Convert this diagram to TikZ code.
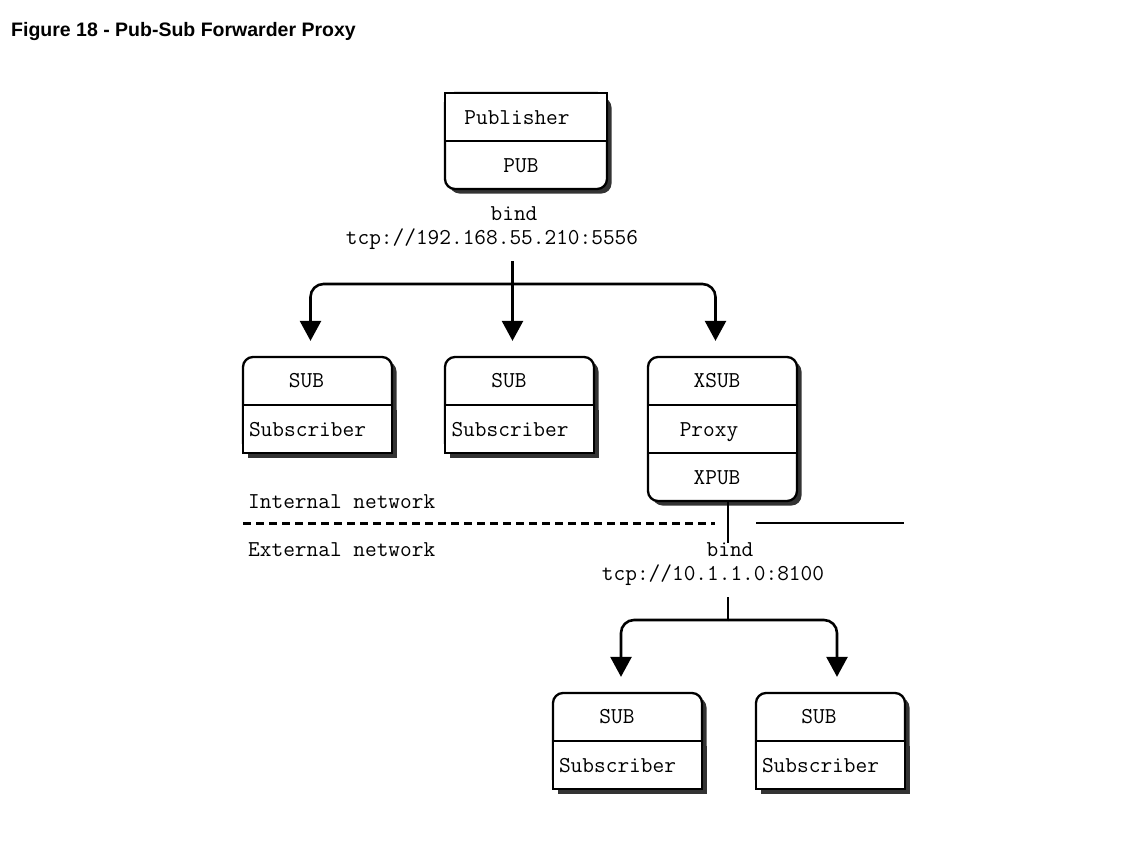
\documentclass[tikz,border=0pt]{standalone}
\usepackage{fontspec}
\newfontfamily\titlefont{Liberation Sans}
\usetikzlibrary{arrows.meta,shadows}

\tikzset{
  txt/.style={font=\ttfamily\fontsize{22.7pt}{24pt}\selectfont, text height=14pt, text depth=0pt, inner sep=0pt},
  every label/.style={txt},
  part/.style={minimum width=149pt, minimum height=48pt, inner sep=0pt},
  box/.style={draw, line width=2.3pt, fill=white, rounded corners=10pt, minimum width=149pt, minimum height=96pt, inner sep=0pt,
    drop shadow={shadow xshift=4.5pt, shadow yshift=-4.5pt, fill=black!80, opacity=1}},
  cell/.style={part, draw, line width=2.3pt, fill=white, sharp corners},
  cellshadow/.style={cell, drop shadow={shadow xshift=4.5pt, shadow yshift=-4.5pt, fill=black!80, opacity=1}},
  wire/.style={line width=2.6pt},
  feed/.style={wire, rounded corners=13pt, -{Triangle[width=21pt,length=20pt]}, shorten >=15pt}
}

\begin{document}
\begin{tikzpicture}[x=1pt, y=-1pt]
    \useasboundingbox (0,0) rectangle (1125,852);

    \node[anchor=base west, inner sep=0pt, font=\titlefont\bfseries\fontsize{19.5pt}{22pt}\selectfont] (title) at (11,36.5) {Figure 18 - Pub-Sub Forwarder Proxy};

    % publisher
    \node[box, minimum width=162pt] (pub) at (526,141) {};
    \node[cell, minimum width=162pt, anchor=north, label={[xshift=-9pt]center:Publisher}] (pubapp) at (pub.north) {};
    \node[part, minimum width=162pt, anchor=south, label={[xshift=-5pt]center:PUB}] (pubsock) at (pub.south) {};
    \node[txt] (pubbind) at (514,213) {bind};
    \node[txt] (pubaddr) at (492,237) {tcp://192.168.55.210:5556};

    % internal subscribers
    \node[box] (sub1) at (317.5,405) {};
    \node[part, anchor=north, label={[xshift=-11pt]center:SUB}] (sub1sock) at (sub1.north) {};
    \node[cellshadow, anchor=south, label={[xshift=-10pt]center:Subscriber}] (sub1app) at (sub1.south) {};

    \node[box] (sub2) at (519.5,405) {};
    \node[part, anchor=north, label={[xshift=-10.5pt]center:SUB}] (sub2sock) at (sub2.north) {};
    \node[cellshadow, anchor=south, label={[xshift=-9.5pt]center:Subscriber}] (sub2app) at (sub2.south) {};

    % proxy
    \node[box, minimum height=144pt] (proxy) at (722.5,429) {};
    \node[part, anchor=north, label={[xshift=-5.5pt]center:XSUB}] (proxyxsub) at (proxy.north) {};
    \node[cell, label={[xshift=-13.5pt]center:Proxy}] (proxymid) at (proxy.center) {};
    \node[part, anchor=south, label={[xshift=-5.5pt]center:XPUB}] (proxyxpub) at (proxy.south) {};

    % external subscribers
    \node[box] (sub3) at (627.5,741) {};
    \node[part, anchor=north, label={[xshift=-10.5pt]center:SUB}] (sub3sock) at (sub3.north) {};
    \node[cellshadow, anchor=south, label={[xshift=-10pt]center:Subscriber}] (sub3app) at (sub3.south) {};

    \node[box] (sub4) at (830.5,741) {};
    \node[part, anchor=north, label={[xshift=-11.5pt]center:SUB}] (sub4sock) at (sub4.north) {};
    \node[cellshadow, anchor=south, label={[xshift=-10pt]center:Subscriber}] (sub4app) at (sub4.south) {};

    % network boundary
    \node[txt, anchor=west] (internal) at (248,501) {Internal network};
    \node[txt, anchor=west] (external) at (248,549) {External network};
    \coordinate (netleft) at (243,523);
    \coordinate (netgap) at (715,523);
    \coordinate (netrest) at (756,523);
    \coordinate (netright) at (904,523);
    \draw[line width=3pt, dash pattern=on 8pt off 5pt] (netleft) -- (netgap);
    \draw[line width=2.6pt] (netrest) -- (netright);

    % publisher fan-out
    \coordinate (pubfork) at (512.5,261);
    \coordinate (pubhub) at (512.5,284);
    \draw[feed] (pubfork) -- ([xshift=-7pt]sub2.north);
    \draw[feed] (pubhub) -| ([xshift=-7pt]sub1.north);
    \draw[feed] (pubhub) -| ([xshift=-7pt]proxy.north);

    % proxy fan-out
    \coordinate (xpubend) at (728,543);
    \draw[wire] ([xshift=5.5pt]proxy.south) -- (xpubend);
    \node[txt] (xpubbind) at (730,549) {bind};
    \node[txt] (xpubaddr) at (713,573) {tcp://10.1.1.0:8100};
    \coordinate (xpubfork) at (728,597);
    \coordinate (xpubhub) at (728,620);
    \draw[wire] (xpubfork) -- (xpubhub);
    \draw[feed] (xpubhub) -| ([xshift=-6.5pt]sub3.north);
    \draw[feed] (xpubhub) -| ([xshift=6.5pt]sub4.north);
\end{tikzpicture}
\end{document}
